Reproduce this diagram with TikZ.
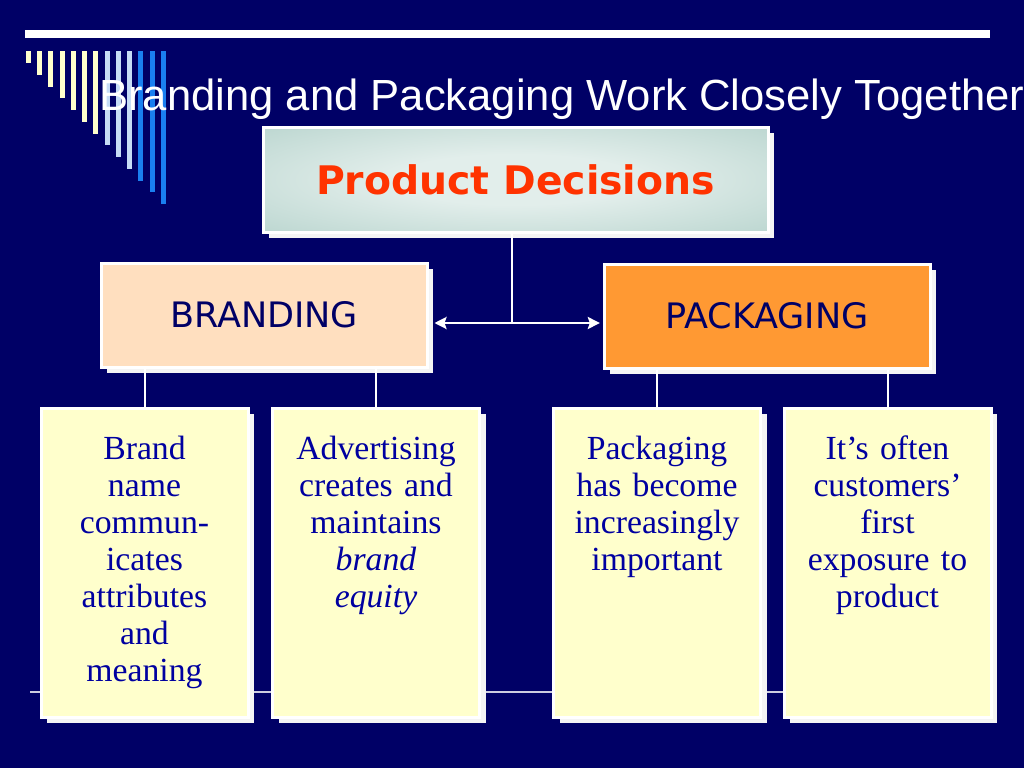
\documentclass[tikz,border=0pt]{standalone}
\usepackage{fontspec}
\setmainfont{Liberation Serif}
\newfontfamily\headfont{Liberation Sans}
\newfontfamily\boxfont{DejaVu Sans}
\usepackage{tikz}
\usetikzlibrary{shapes,arrows,arrows.meta,shadows}
\usetikzlibrary{positioning}
\definecolor{slidebg}{HTML}{000066}
\definecolor{noteblue}{HTML}{0000A0}
\definecolor{notefill}{HTML}{FFFFCC}
\definecolor{peach}{HTML}{FFDFBF}
\definecolor{pkgorange}{HTML}{FF9933}
\definecolor{redtext}{HTML}{FF3300}
\definecolor{pdedge}{HTML}{A6C9C1}
\definecolor{pdlight}{HTML}{E2EEEB}
\definecolor{stripecream}{HTML}{FFFFCC}
\definecolor{stripepale}{HTML}{C6DCF6}
\definecolor{stripeblue}{HTML}{1A7FF0}
\definecolor{shadowwhite}{HTML}{F4F4F4}
\pgfdeclareradialshading{decisionglow}{\pgfpoint{0bp}{0bp}}{color(0bp)=(pdlight); color(12bp)=(pdlight); color(50bp)=(pdedge)}
\tikzstyle{arrow} = [line width=2pt,>={Stealth[length=9pt,width=9pt,inset=1.5pt]},<->,white]
\tikzstyle{link} = [line width=1.5pt,white]
\tikzstyle{card} = [
    rectangle, draw=white, line width=2.25pt,
    drop shadow={shadow xshift=4.5pt, shadow yshift=-4.5pt, fill=shadowwhite, opacity=1}]
\tikzstyle{topic} = [
    card, minimum width=244.5pt, minimum height=78pt,
    font=\boxfont\fontsize{26.3}{30}\selectfont, text=slidebg]
\tikzstyle{note} = [card, fill=notefill, minimum width=155.25pt, minimum height=231.75pt]
\tikzstyle{notetext} = [
    text width=150pt, align=center, inner sep=0pt,
    font=\fontsize{25.3}{27.75}\selectfont, text=noteblue]

\begin{document}
\begin{tikzpicture}[x=0.75pt,y=-0.75pt]
\useasboundingbox (0,0) rectangle (1024,768);
\clip (0,0) rectangle (1024,768);
\fill[slidebg] (0,0) rectangle (1024,768);

% slide decoration
\fill[white] (25,30) rectangle (990,38);
\foreach \i/\col in {0/stripecream,1/stripecream,2/stripecream,3/stripecream,
    4/stripecream,5/stripecream,6/stripecream,7/stripepale,8/stripepale,
    9/stripepale,10/stripeblue,11/stripeblue,12/stripeblue}
  \fill[\col] ({25.8+11.25*\i},51) rectangle ({30.8+11.25*\i},{63+11.75*\i});
\draw[white!80!slidebg, line width=0.9pt] (30,692) -- (900,692);

\node (title) [anchor=base west, inner sep=0pt, text=white,
    font=\headfont\fontsize{32.7}{36}\selectfont] at (99,110)
    {Branding and Packaging Work Closely Together};

\node (decisions) [card, shading=decisionglow, minimum width=378.75pt, minimum height=78.75pt,
    font=\boxfont\bfseries\fontsize{29.5}{34}\selectfont, text=redtext] at (515.5,179.5)
    {Product Decisions};

\node (branding) [topic, fill=peach] at (264,315) {BRANDING};
\node (packaging) [topic, fill=pkgorange] at (767,316) {PACKAGING};

\coordinate (fork) at (512,323);
\draw[link] (fork) -- (fork |- decisions.south);
\draw[arrow] ([xshift=4.5pt]branding.east |- fork) -- ([xshift=-2pt]packaging.west |- fork);

\node (brandname) [note] at (144.5,562.5) {};
\node (advert) [note] at (376,562.5) {};
\node (packnote) [note] at (657,562.5) {};
\node (exposure) [note] at (887.5,562.5) {};

\draw[link] (brandname.north) -- (brandname.north |- branding.south);
\draw[link] (advert.north) -- (advert.north |- branding.south);
\draw[link] (packnote.north) -- (packnote.north |- packaging.south);
\draw[link] (exposure.north) -- (exposure.north |- packaging.south);

\node (brandtext) [notetext, below=22pt of brandname.north] {
    Brand\\ name\\ commun-\\ icates\\ attributes\\ and\\ meaning
};
\node (adverttext) [notetext, below=22pt of advert.north] {
    Advertising\\ creates and\\ maintains\\ \textit{brand}\\ \textit{equity}
};
\node (packtext) [notetext, below=22pt of packnote.north] {
    Packaging\\ has become\\ increasingly\\ important
};
\node (exposuretext) [notetext, below=22pt of exposure.north] {
    It’s often\\ customers’\\ first\\ exposure to\\ product
};
\end{tikzpicture}
\end{document}
